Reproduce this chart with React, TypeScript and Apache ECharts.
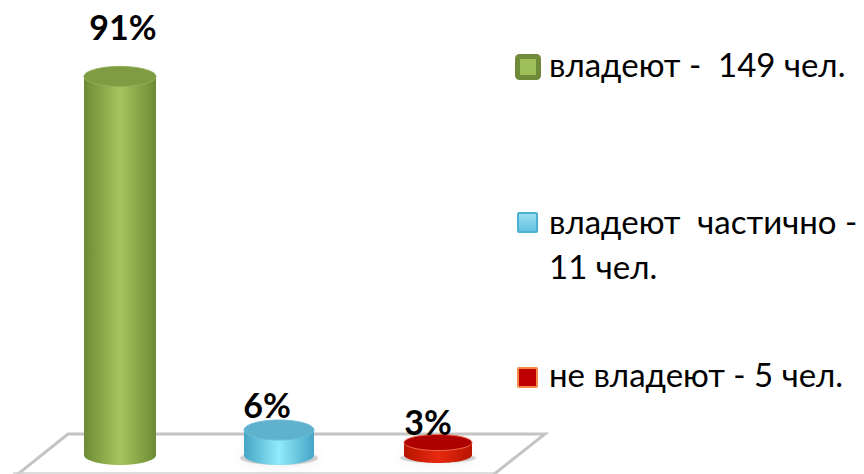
import React, { useEffect, useRef } from "react";
import * as echarts from "echarts";

const categories = ["владеют", "владеют частично", "не владеют"];
const percentValues = [91, 6, 3];
const legendLines = [["владеют -  149 чел."], ["владеют  частично -", "11 чел."], ["не владеют - 5 чел."]];

const FONT = "Lato, 'Noto Sans', sans-serif";
const palette = [
  { edge: "#6d8a34", mid: "#a6c55e", top: "#7f9c42", topEdge: "#93ae56", border: "#6f8b3a", fill: "#9fbf58", bw: 5 },
  { edge: "#46a5c6", mid: "#90ebfb", top: "#5fb2cd", topEdge: "#6dbcd5", border: "#4cb0d2", fill: "#9fe0f2", bw: 2 },
  { edge: "#b81400", mid: "#e62a10", top: "#ad0000", topEdge: "#f0694a", border: "#f58a4a", fill: "#c00000", bw: 2 },
];
const radius = [
  { rx: 36, ry: 10 },
  { rx: 35, ry: 10 },
  { rx: 34, ry: 8 },
];
const labelOffset = [
  [3, -50],
  [-12, -26],
  [-10, -21],
];
const legendBox = [
  { x: 515, y: 54, s: 26, baseline: 77 },
  { x: 517, y: 212, s: 21, baseline: 234 },
  { x: 517, y: 367, s: 21, baseline: 387 },
];
const LINE_STEP = 45;
const LEGEND_SIZE = 33;

function renderItem(params: any, api: any) {
  const i = api.value(0);
  const c = palette[i];
  const r = radius[i];
  const base = api.coord([i, 0]);
  const top = api.coord([i, api.value(1)]);
  const body = new echarts.graphic.LinearGradient(0, 0, 1, 0, [
    { offset: 0, color: c.edge },
    { offset: 0.5, color: c.mid },
    { offset: 1, color: c.edge },
  ]);
  const children: any[] = [];
  if (i > 0) {
    children.push({
      type: "ellipse",
      shape: { cx: base[0], cy: base[1] + 3, rx: r.rx + 4, ry: r.ry - 3 },
      style: { fill: "rgba(120,120,120,0.3)", shadowBlur: 8, shadowColor: "rgba(120,120,120,0.5)" },
    });
  }
  children.push(
    { type: "ellipse", shape: { cx: base[0], cy: base[1], rx: r.rx, ry: r.ry }, style: { fill: body } },
    { type: "rect", shape: { x: base[0] - r.rx, y: top[1], width: r.rx * 2, height: base[1] - top[1] }, style: { fill: body } },
    {
      type: "ellipse",
      shape: { cx: top[0], cy: top[1], rx: r.rx, ry: r.ry },
      style: { fill: c.top, stroke: c.topEdge, lineWidth: 1 },
    },
    {
      type: "text",
      style: {
        x: top[0] + labelOffset[i][0],
        y: top[1] + labelOffset[i][1],
        text: percentValues[i] + "%",
        align: "center",
        verticalAlign: "middle",
        font: `bold 34px ${FONT}`,
        fill: "#000",
      },
    }
  );
  return { type: "group", children };
}

export default function App() {
  const ref = useRef<HTMLDivElement>(null);
  useEffect(() => {
    const chart = echarts.init(ref.current!, null, { renderer: "svg" });
    const legendGraphics: any[] = [];
    legendBox.forEach((b, i) => {
      const c = palette[i];
      const fill =
        i === 0
          ? c.fill
          : new echarts.graphic.LinearGradient(0, 0, 0, 1, [
              { offset: 0, color: c.fill },
              { offset: 1, color: i === 1 ? "#5fc0de" : c.fill },
            ]);
      legendGraphics.push({
        type: "rect",
        shape: { x: b.x + c.bw / 2, y: b.y + c.bw / 2, width: b.s - c.bw, height: b.s - c.bw, r: i === 0 ? 2 : 1 },
        style: { fill, stroke: c.border, lineWidth: c.bw },
      });
      legendLines[i].forEach((t, k) => {
        legendGraphics.push({
          type: "text",
          style: {
            x: 549,
            y: b.baseline - LEGEND_SIZE * 0.89 + k * LINE_STEP,
            text: t,
            font: `${LEGEND_SIZE}px ${FONT}`,
            fill: "#000",
            align: "left",
            verticalAlign: "top",
          },
        });
      });
    });
    chart.setOption({
      animation: false,
      backgroundColor: "#fff",
      grid: { left: 40.5, width: 477, top: 39, height: 416 },
      xAxis: { type: "category", data: categories, show: false },
      yAxis: { type: "value", min: 0, max: 100, show: false },
      graphic: [
        {
          type: "polyline",
          z: -1,
          shape: { points: [[13, 478], [68, 434], [545, 434], [493, 475]] },
          style: { stroke: "#c4c4c4", lineWidth: 3, fill: "none" },
        },
        {
          type: "line",
          z: -1,
          shape: { x1: 13, y1: 473, x2: 493, y2: 473 },
          style: { stroke: "#d0d0d0", lineWidth: 1.5 },
        },
        ...legendGraphics,
      ],
      series: [
        {
          type: "custom",
          clip: false,
          z: 5,
          renderItem,
          encode: { x: 0, y: 1 },
          data: percentValues.map((v, i) => [i, v]),
        },
      ],
    });
    return () => chart.dispose();
  }, []);
  return <div ref={ref} style={{ position: "fixed", left: 0, top: 0, width: 864, height: 474 }} />;
}
